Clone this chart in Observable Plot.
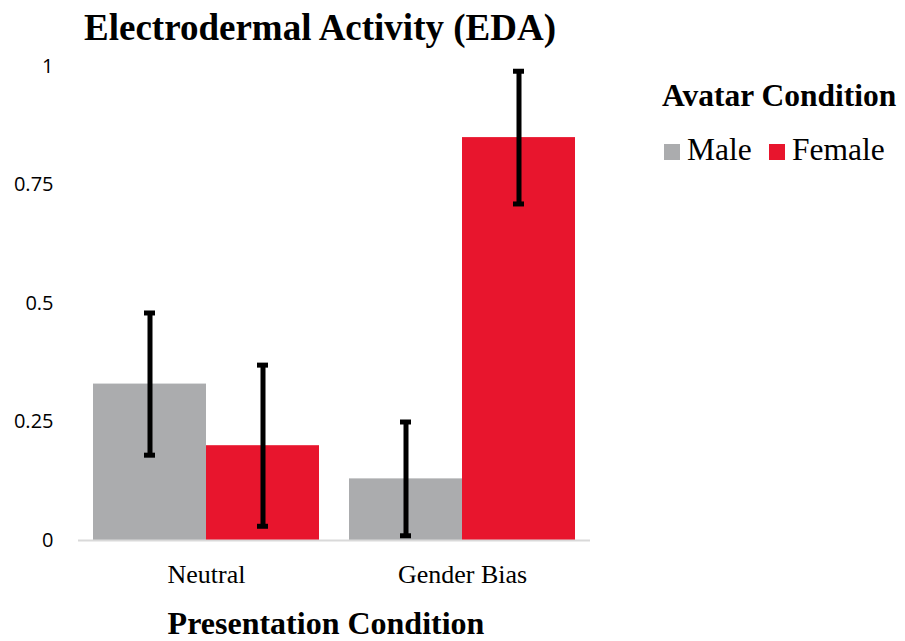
<!DOCTYPE html>
<html>
<head>
<meta charset="utf-8">
<script src="https://cdn.jsdelivr.net/npm/d3@7"></script>
<script src="https://cdn.jsdelivr.net/npm/@observablehq/plot@0.6"></script>
<style>
  html, body { margin: 0; padding: 0; background: #fff; }
  #wrap { position: relative; width: 905px; height: 641px; overflow: hidden; }
  #wrap > svg { position: absolute; left: 0; top: 0; }
  .serif { font-family: "Liberation Serif", "Times New Roman", serif; fill: #000; }
  g[aria-label="y-axis tick label"] text, g[aria-label="y-axis tick label"] {
    font-family: "Open Sans", sans-serif !important; font-size: 20px !important; fill: #000;
  }
  g[aria-label="fx-axis tick label"] text, g[aria-label="fx-axis tick label"] {
    font-family: "Liberation Serif", "Times New Roman", serif !important; font-size: 26px !important; fill: #000;
  }
</style>
</head>
<body>
<div id="wrap"></div>
<script>
// ---- data ----
const conditions = ["Neutral", "Gender Bias"];
const avatars = ["Male", "Female"];
const maleMeans = [0.33, 0.13];
const femaleMeans = [0.20, 0.85];
const maleErrors = [0.15, 0.12];
const femaleErrors = [0.17, 0.14];
const yTicks = [0, 0.25, 0.5, 0.75, 1];
const yTickLabels = ["0", "0.25", "0.5", "0.75", "1"];
const colors = ["#ABACAE", "#E8152D"];

const titleText = "Electrodermal Activity (EDA)";
const xTitleText = "Presentation Condition";
const legendTitleText = "Avatar Condition";

const rows = [];
conditions.forEach((c, i) => {
  rows.push({condition: c, avatar: "Male", mean: maleMeans[i], err: maleErrors[i]});
  rows.push({condition: c, avatar: "Female", mean: femaleMeans[i], err: femaleErrors[i]});
});

const chart = Plot.plot({
  width: 905,
  height: 641,
  marginLeft: 78,
  marginRight: 315,
  marginTop: 66,
  marginBottom: 101,
  style: {background: "#fff"},
  fx: {domain: conditions, padding: 0, label: null},
  x: {domain: avatars, paddingInner: 0, paddingOuter: 0.123, axis: null},
  y: {domain: [0, 1], label: null},
  color: {domain: avatars, range: colors},
  marks: [
    Plot.barY(rows, {fx: "condition", x: "avatar", y: "mean", fill: "avatar"}),
    Plot.ruleY([0], {stroke: "#d9d9d9", strokeWidth: 2}),
    Plot.ruleX(rows, {fx: "condition", x: "avatar", y1: d => d.mean - d.err, y2: d => d.mean + d.err, stroke: "#000", strokeWidth: 5}),
    Plot.tickY(rows, {fx: "condition", x: "avatar", y: d => d.mean + d.err, stroke: "#000", strokeWidth: 5, insetLeft: 51, insetRight: 51}),
    Plot.tickY(rows, {fx: "condition", x: "avatar", y: d => d.mean - d.err, stroke: "#000", strokeWidth: 5, insetLeft: 51, insetRight: 51}),
    Plot.axisY({ticks: yTicks, tickFormat: (d) => yTickLabels[yTicks.indexOf(d)], tickSize: 0, tickPadding: 25, label: null, fontSize: 20, fill: "#000"}),
    Plot.axisFx({anchor: "bottom", tickSize: 0, tickPadding: 24, label: null, fontSize: 26, fill: "#000"})
  ]
});
document.getElementById("wrap").appendChild(chart);

// ---- overlay texts: title, axis title, legend ----
const over = d3.select("#wrap").append("svg")
  .attr("width", 905).attr("height", 641)
  .style("pointer-events", "none");

over.append("text").attr("class", "serif")
  .attr("x", 320).attr("y", 40).attr("text-anchor", "middle")
  .style("font-size", "37px").style("font-weight", "bold")
  .text(titleText);

over.append("text").attr("class", "serif")
  .attr("x", 326).attr("y", 634).attr("text-anchor", "middle")
  .style("font-size", "32px").style("font-weight", "bold")
  .text(xTitleText);

over.append("text").attr("class", "serif")
  .attr("x", 662).attr("y", 106)
  .style("font-size", "31.5px").style("font-weight", "bold")
  .text(legendTitleText);

const legendX = [664, 769];
avatars.forEach((a, i) => {
  over.append("rect").attr("x", legendX[i]).attr("y", 144).attr("width", 16).attr("height", 16).attr("fill", colors[i]);
  over.append("text").attr("class", "serif")
    .attr("x", legendX[i] + 23).attr("y", 160)
    .style("font-size", "31.5px")
    .text(a);
});
</script>
</body>
</html>
